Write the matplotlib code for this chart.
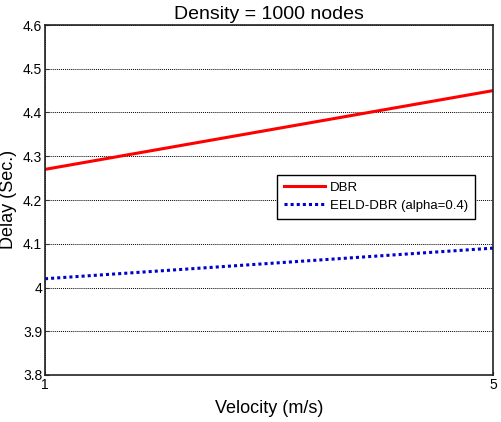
import matplotlib
matplotlib.use("Agg")
import matplotlib.pyplot as plt

plt.rcParams['font.family'] = ['Liberation Sans', 'DejaVu Sans']

velocity = [1, 5]
dbr = [4.27, 4.45]
eeld_dbr = [4.02, 4.09]
y_ticks = [3.8, 3.9, 4.0, 4.1, 4.2, 4.3, 4.4, 4.5, 4.6]
y_tick_labels = ["3.8", "3.9", "4", "4.1", "4.2", "4.3", "4.4", "4.5", "4.6"]

fig = plt.figure(figsize=(5.01, 4.22), dpi=100)
ax = fig.add_axes([45 / 501, 1 - 375 / 422, 448 / 501, 350 / 422])

ax.plot(velocity, dbr, color="#ff0000", lw=2.2, label="DBR")
ax.plot(velocity, eeld_dbr, color="#0000cc", lw=2.2, ls=(0, (1, 1)), label="EELD-DBR (alpha=0.4)")

ax.set_xlim(1, 5)
ax.set_ylim(3.8, 4.6)
ax.set_xticks(velocity)
ax.set_yticks(y_ticks)
ax.set_yticklabels(y_tick_labels)
ax.tick_params(labelsize=10, direction="in", length=3, pad=2, color="#333333")
ax.grid(True, color="black", ls=(0, (1, 1)), lw=0.7)
for s in ax.spines.values():
    s.set_linewidth(1.2)
    s.set_color("#222222")

ax.set_title("Density = 1000 nodes", fontsize=14, pad=4)
ax.set_xlabel("Velocity (m/s)", fontsize=13, labelpad=6)
fig.text(0.017, 1 - 199 / 422, "Delay (Sec.)", rotation=90, fontsize=13, va="center", ha="center")

leg = ax.legend(loc="upper left", bbox_to_anchor=((277 - 45) / 448, (375 - 175) / 350),
                borderaxespad=0, fontsize=9.5, frameon=True, fancybox=False, framealpha=1,
                edgecolor="black", handlelength=3.1, handletextpad=0.4,
                borderpad=0.5, labelspacing=0.45)
leg.get_frame().set_linewidth(1.0)

plt.savefig("out.png", dpi=100)
